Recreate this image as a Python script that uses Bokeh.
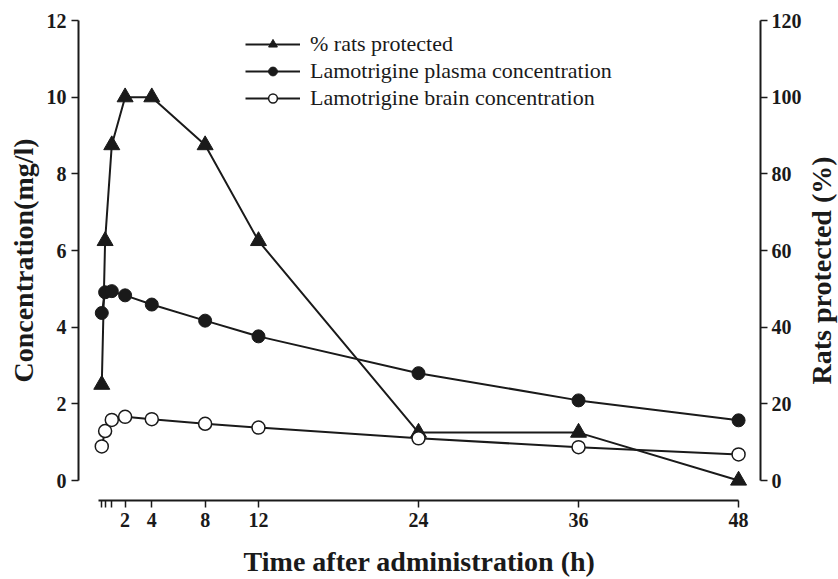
import math
from bokeh.plotting import figure
from bokeh.layouts import row
from bokeh.models import (Range1d, LinearAxis, FixedTicker, Legend, LegendItem)
from bokeh.core.properties import value
from bokeh.embed import file_html
from bokeh.resources import INLINE

time_h = [0.25, 0.5, 1, 2, 4, 8, 12, 24, 36, 48]
rats_protected = [25, 62.5, 87.5, 100, 100, 87.5, 62.5, 12.5, 12.5, 0]
plasma_conc = [4.37, 4.91, 4.94, 4.83, 4.59, 4.17, 3.76, 2.80, 2.09, 1.57]
brain_conc = [0.89, 1.29, 1.58, 1.66, 1.60, 1.48, 1.38, 1.10, 0.87, 0.68]

x_ticks = [0.25, 0.5, 1, 2, 4, 8, 12, 24, 36, 48]
x_tick_labels = {0.25: "", 0.5: "", 1: "", 2: "2", 4: "4", 8: "8", 12: "12", 24: "24", 36: "36", 48: "48"}
left_ticks = [0, 2, 4, 6, 8, 10, 12]
right_ticks = [0, 20, 40, 60, 80, 100, 120]
right_title = "Rats protected (%)"

FONT = "Liberation Serif"
col = "#1a1a1a"

pxh = 642 / 48.0
pxy = 460 / 12.0
p = figure(width=804, height=579, output_backend="svg", toolbar_location=None,
           x_range=Range1d(-20 / pxh, 48 + 22 / pxh),
           y_range=Range1d(-20 / pxy, 12),
           min_border_left=78, min_border_right=42, min_border_top=20, min_border_bottom=79,
           x_axis_label="Time after administration (h)",
           y_axis_label="Concentration(mg/l)")
p.extra_y_ranges = {"right": Range1d(-200 / pxy, 120)}
p.outline_line_color = None
p.xgrid.visible = False
p.ygrid.visible = False
p.background_fill_color = "white"
p.border_fill_color = "white"

def style_axis(ax):
    ax.axis_line_color = col
    ax.axis_line_width = 2
    ax.major_tick_line_color = col
    ax.major_tick_line_width = 1.5
    ax.major_tick_out = 7
    ax.major_tick_in = 0
    ax.minor_tick_line_color = None
    ax.major_label_text_font = FONT
    ax.major_label_text_font_size = "20px"
    ax.major_label_text_font_style = "bold"
    ax.major_label_text_color = col
    ax.axis_label_text_font = FONT
    ax.axis_label_text_font_size = "28px"
    ax.axis_label_text_font_style = "bold"
    ax.axis_label_text_color = col

xa = p.xaxis[0]
style_axis(xa)
xa.ticker = FixedTicker(ticks=x_ticks)
xa.major_label_overrides = x_tick_labels
xa.bounds = (0, 48)
xa.major_label_standoff = 5
xa.axis_label_standoff = 16

ya = p.yaxis[0]
style_axis(ya)
ya.ticker = FixedTicker(ticks=left_ticks)
ya.bounds = (0, 12)
ya.major_label_standoff = 5
ya.axis_label_standoff = 5

ra = LinearAxis(y_range_name="right")
style_axis(ra)
ra.ticker = FixedTicker(ticks=right_ticks)
ra.bounds = (0, 120)
ra.major_label_standoff = 4
p.add_layout(ra, "right")

l1 = p.line(time_h, rats_protected, y_range_name="right", line_color=col, line_width=2)
m1 = p.scatter(time_h, rats_protected, y_range_name="right", marker="triangle",
               size=16, fill_color=col, line_color=col)
l2 = p.line(time_h, plasma_conc, line_color=col, line_width=2)
m2 = p.scatter(time_h, plasma_conc, marker="circle", size=13, fill_color=col, line_color=col)
l3 = p.line(time_h, brain_conc, line_color=col, line_width=2)
m3 = p.scatter(time_h, brain_conc, marker="circle", size=13, fill_color="white",
               line_color=col, line_width=1.5)

legend = Legend(items=[
    LegendItem(label="% rats protected", renderers=[l1, m1]),
    LegendItem(label="Lamotrigine plasma concentration", renderers=[l2, m2]),
    LegendItem(label="Lamotrigine brain concentration", renderers=[l3, m3]),
], location=(167, 389))
legend.background_fill_alpha = 0
legend.border_line_color = None
legend.label_text_font = FONT
legend.label_text_font_size = "22px"
legend.label_text_color = col
legend.glyph_width = 55
legend.glyph_height = 22
legend.label_height = 22
legend.spacing = 1
legend.padding = 0
legend.margin = 0
legend.label_standoff = 10
p.add_layout(legend, "center")

# narrow companion figure carrying the right-hand axis title (reads bottom to top)
p2 = figure(frame_width=34, frame_height=579, output_backend="svg", toolbar_location=None,
            x_range=Range1d(0, 34), y_range=Range1d(0, 579),
            x_axis_location=None, y_axis_location=None,
            min_border=0, min_border_left=0, min_border_right=0,
            min_border_top=0, min_border_bottom=0)
p2.outline_line_color = None
p2.xgrid.visible = False
p2.ygrid.visible = False
p2.text(x=[17], y=[579 - 250], text=[right_title], angle=math.pi / 2,
        text_align="center", text_baseline="middle", text_font=value(FONT),
        text_font_size="28px", text_font_style="bold", text_color=col)

layout = row(p, p2, spacing=0)
open("out.html", "w").write(file_html(layout, INLINE))
